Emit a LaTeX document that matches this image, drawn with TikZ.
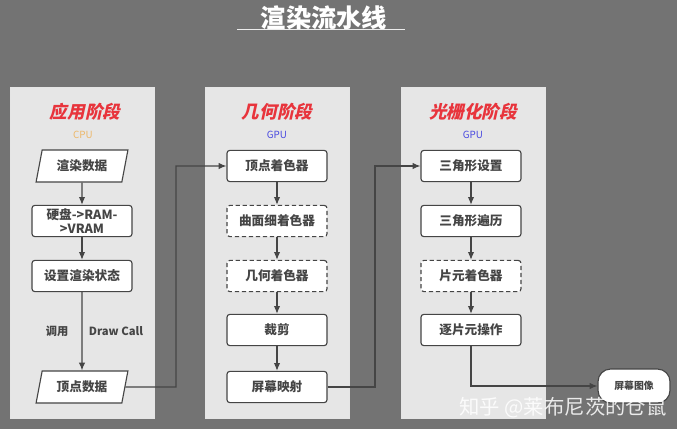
\documentclass[tikz,border=0pt]{standalone}
\usepackage{fontspec}
\setmainfont{Noto Sans CJK SC}
\newfontfamily\slantfont{Noto Sans CJK SC}[FakeSlant=0.22]
\usetikzlibrary{arrows.meta}
\usetikzlibrary{positioning}
\usetikzlibrary{shapes.geometric}
\definecolor{bggray}{HTML}{737373}
\definecolor{panelgray}{HTML}{E6E6E6}
\definecolor{linegray}{HTML}{454545}
\definecolor{stagered}{HTML}{E8343C}
\definecolor{cpuorange}{HTML}{EDB86A}
\definecolor{gpublue}{HTML}{4B4BE0}
\tikzstyle{panel}=[draw=white!80!gray,fill=panelgray,line width=0.6pt]
\tikzstyle{proc}=[draw=linegray,fill=white,rounded corners=2pt,line width=0.8pt,minimum width=2.5cm,minimum height=0.78cm,text=linegray,font=\bfseries\fontsize{9}{10.5}\selectfont,align=center,inner sep=1pt]
\tikzstyle{opt}=[proc,dash pattern=on 3pt off 2pt]
\tikzstyle{data}=[draw=linegray,fill=white,line width=0.8pt,trapezium,trapezium left angle=78,trapezium right angle=102,trapezium stretches,minimum width=2.3cm,minimum height=0.8cm,text=linegray,font=\bfseries\fontsize{9}{10.5}\selectfont]
\tikzstyle{stage}=[text=stagered,font=\slantfont\bfseries\fontsize{12.5}{14}\selectfont]
\tikzstyle{unit}=[font=\fontsize{7}{8}\selectfont]
\tikzstyle{lbl}=[text=linegray,font=\bfseries\fontsize{8}{10}\selectfont]
\tikzstyle{flow}=[draw=linegray,line width=0.8pt,-{Latex[length=5.5pt,width=4.5pt]}]

\begin{document}
\begin{tikzpicture}[x=0.025cm,y=-0.025cm]
\fill[bggray] (0,0) rectangle (677,429);
\useasboundingbox (0,0) rectangle (677,429);

% title
\node[text=white,font=\bfseries\fontsize{18}{21}\selectfont] (title) at (324,18) {渲染流水线};
\draw[white!85!gray,line width=0.6pt] (237,29) -- (405,29);

% the three stages
\draw[panel] (10,87) rectangle (154,418);
\draw[panel] (205,87) rectangle (349,418);
\draw[panel] (401,87) rectangle (545,418);

\node[stage] (app) at (85,112) {应用阶段};
\node[unit,text=cpuorange] (cpu) at (83,135) {CPU};
\node[stage] (geo) at (277,112) {几何阶段};
\node[unit,text=gpublue] (gpu1) at (277,135) {GPU};
\node[stage] (rast) at (473,112) {光栅化阶段};
\node[unit,text=gpublue] (gpu2) at (473,135) {GPU};

% application stage
\node[data] at (82,166) (rdata) {渲染数据};
\node[proc] at (82,221) (load) {硬盘->RAM-\\>VRAM};
\node[proc] at (82,276) (state) {设置渲染状态};
\node[data] at (82,387) (vdata) {顶点数据};
\draw[flow] (rdata) -- (load);
\draw[flow] (load) -- (state);
\draw[flow] (state) -- (vdata);
\node[lbl] at (57,331) (call) {调用};
\node[lbl] at (116,331) (dc) {Draw Call};

% geometry stage
\node[proc] at (277,166) (vs) {顶点着色器};
\node[opt] at (277,221) (ts) {曲面细着色器};
\node[opt] at (277,276) (gs) {几何着色器};
\node[proc] at (277,330) (clip) {裁剪};
\node[proc] at (277,387) (map) {屏幕映射};
\draw[flow] (vs) -- (ts);
\draw[flow] (ts) -- (gs);
\draw[flow] (gs) -- (clip);
\draw[flow] (clip) -- (map);

% rasterizer stage
\node[proc] at (471,166) (setup) {三角形设置};
\node[proc] at (471,221) (trav) {三角形遍历};
\node[opt] at (471,276) (fs) {片元着色器};
\node[proc] at (471,330) (frag) {逐片元操作};
\draw[flow] (setup) -- (trav);
\draw[flow] (trav) -- (fs);
\draw[flow] (fs) -- (frag);

\node[proc,rounded corners=9pt,minimum width=1.8cm,minimum height=0.85cm,font=\bfseries\fontsize{7}{9}\selectfont] at (634,386) (img) {屏幕图像};

% links between stages
\draw[flow] (vdata.east) -- (176,387) |- (vs.west);
\draw[flow] (map.east) -- (375,387) |- (setup.west);
\draw[flow] (frag.south) |- (img.west);

\node[text=white,opacity=0.85,font=\fontsize{14.5}{17}\selectfont] (mark) at (563,408) {知乎 @莱布尼茨的仓鼠};
\end{tikzpicture}
\end{document}
